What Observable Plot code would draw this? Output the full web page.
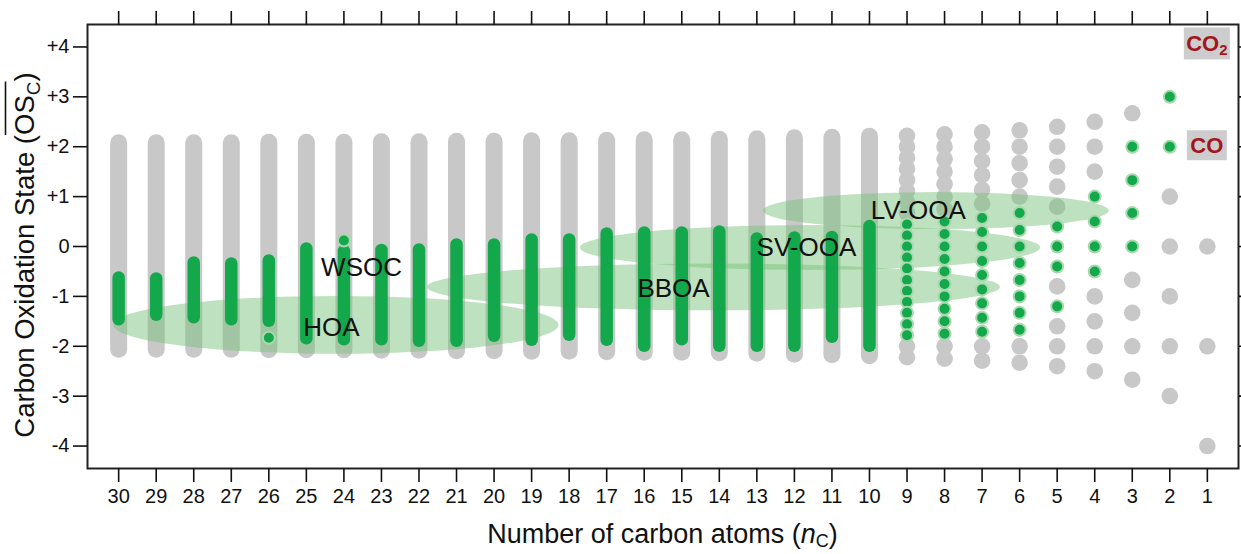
<!DOCTYPE html>
<html><head><meta charset="utf-8">
<script src="https://cdn.jsdelivr.net/npm/d3@7"></script>
<script src="https://cdn.jsdelivr.net/npm/@observablehq/plot@0.6"></script>
<style>
html,body{margin:0;padding:0;background:#fff;}
#chart{width:1241px;height:554px;}
</style></head><body><div id="chart"></div>
<script>
// ---------- DATA ----------
const xTicks = [30,29,28,27,26,25,24,23,22,21,20,19,18,17,16,15,14,13,12,11,10,9,8,7,6,5,4,3,2,1];
const yTicks = [-4,-3,-2,-1,0,1,2,3,4];
const yTickLabels = ["-4","-3","-2","-1","0","+1","+2","+3","+4"];

// columns drawn as continuous bars (n >= 10)
const barN     = [30,29,28,27,26,25,24,23,22,21,20,19,18,17,16,15,14,13,12,11,10];
const grayHi   = [2.07,2.07,2.07,2.07,2.08,2.08,2.08,2.09,2.09,2.1,2.1,2.11,2.11,2.12,2.13,2.13,2.14,2.15,2.17,2.18,2.2];
const grayLo   = [-2.07,-2.07,-2.07,-2.07,-2.08,-2.08,-2.08,-2.09,-2.09,-2.1,-2.1,-2.11,-2.11,-2.12,-2.13,-2.13,-2.14,-2.15,-2.17,-2.18,-2.2];
const greenHi  = [-0.63,-0.65,-0.33,-0.35,-0.29,-0.05,-0.1,-0.08,-0.07,0.03,0.03,0.13,0.13,0.25,0.27,0.27,0.29,0.15,0.17,0.18,0.4];
const greenLo  = [-1.47,-1.38,-1.43,-1.47,-1.5,-1.85,-1.87,-1.87,-1.9,-1.9,-1.8,-1.88,-1.78,-1.88,-2.0,-1.87,-2.0,-2.0,-2.0,-1.82,-2.0];
const greenExtraN = [26, 24];
const greenExtraY = [-1.83, 0.12];

// individual possible states (gray) and observed states (green), n <= 9
const gray1 = [0,-2,-4];
const gray2 = [1,0,-1,-2,-3];
const gray3 = [2.67,-0.67,-1.33,-2,-2.67];
const gray4 = [2.5,2,1.5,-1,-1.5,-2,-2.5];
const gray5 = [2.4,2,1.6,1.2,0.8,-0.8,-1.6,-2,-2.4];
const gray6 = [2.33,2,1.67,1.33,1,-2,-2.33];
const gray7 = [2.29,2,1.71,1.43,1.14,0.86,-2,-2.29];
const gray8 = [2.25,2,1.75,1.5,1.25,1,0.75,-2,-2.25];
const gray9 = [2.22,2,1.78,1.56,1.33,1.11,0.89,0.67,-2,-2.22];

const green2 = [3,2];
const green3 = [2,1.33,0.67,0];
const green4 = [1,0.5,0,-0.5];
const green5 = [0.4,0,-0.4,-1.2];
const green6 = [0.67,0.33,0,-0.33,-0.67,-1,-1.33,-1.67];
const green7 = [0.57,0.29,0,-0.29,-0.57,-0.86,-1.14,-1.43,-1.71];
const green8 = [0.5,0.25,0,-0.25,-0.5,-0.75,-1,-1.25,-1.5,-1.75];
const green9 = [0.44,0.22,0,-0.22,-0.44,-0.67,-0.89,-1.11,-1.33,-1.56,-1.78];

// aerosol class ellipses (data units)
const ellName = ["HOA","BBOA","SV-OOA","LV-OOA"];
const ellCx   = [24.2, 14.14, 11.57, 8.22];
const ellCy   = [-1.58, -0.82, -0.03, 0.71];
const ellRx   = [5.93, 7.63, 6.13, 4.61];
const ellRy   = [0.58, 0.47, 0.45, 0.37];

// class labels
const labText = ["HOA","WSOC","BBOA","SV-OOA","LV-OOA"];
const labX    = [24.33, 23.53, 15.22, 11.68, 8.7];
const labY    = [-1.63, -0.42, -0.85, -0.02, 0.72];

// boxed gas labels
const gasText = ["CO2","CO"];
const gasX    = [1, 1];
const gasY    = [4, 2];

// ---------- TABLES ----------
const FONT = "'Liberation Sans', Arial, Helvetica, sans-serif";
const bars = barN.map((n,i)=>({n, gHi:grayHi[i], gLo:grayLo[i], eHi:greenHi[i], eLo:greenLo[i]}));
const grayLists = [[1,gray1],[2,gray2],[3,gray3],[4,gray4],[5,gray5],[6,gray6],[7,gray7],[8,gray8],[9,gray9]];
const greenLists = [[2,green2],[3,green3],[4,green4],[5,green5],[6,green6],[7,green7],[8,green8],[9,green9]];
const grayDots = grayLists.flatMap(([n,ys])=>ys.map(y=>({n,y})));
const greenDots = greenLists.flatMap(([n,ys])=>ys.map(y=>({n,y})))
  .concat(greenExtraN.map((n,i)=>({n, y:greenExtraY[i]})));
const labels = labText.map((t,i)=>({t, x:labX[i], y:labY[i]}));

const GRAY = "#c8c8c8", GREEN = "#12a84b", HALO = "#a9d8ae";

function ellipses(index, scales) {
  const g = d3.create("svg:g");
  ellName.forEach((name,i)=>{
    const cx = scales.x(ellCx[i]), cy = scales.y(ellCy[i]);
    const rx = Math.abs(scales.x(ellCx[i]+ellRx[i]) - cx);
    const ry = Math.abs(scales.y(ellCy[i]+ellRy[i]) - cy);
    g.append("ellipse").attr("cx",cx).attr("cy",cy).attr("rx",rx).attr("ry",ry)
      .attr("fill","#78c27a").attr("fill-opacity",0.48);
  });
  return g.node();
}

function gasLabels(index, scales) {
  const g = d3.create("svg:g");
  gasText.forEach((t,i)=>{
    const cx = scales.x(gasX[i]), cy = scales.y(gasY[i]);
    const w = t === "CO2" ? 46 : 40, h = t === "CO2" ? 32 : 30;
    const oy = t === "CO2" ? -3 : -1;
    g.append("rect").attr("x",cx-w/2).attr("y",cy+oy-h/2).attr("width",w).attr("height",h).attr("fill","#cdcdcd");
    const tx = g.append("text").attr("x",cx).attr("y",cy+oy+8).attr("text-anchor","middle")
      .attr("font-family",FONT).attr("font-weight","bold").attr("font-size",22).attr("fill","#a3161d");
    tx.append("tspan").text("CO");
    if (t === "CO2") { tx.append("tspan").attr("font-size",15).attr("dy",4).text("2"); }
  });
  return g.node();
}

const plot = Plot.plot({
  width: 1241, height: 554,
  marginTop: 24, marginRight: 3, marginBottom: 86, marginLeft: 87,
  style: {fontFamily: FONT, fontSize: "20px", color: "#111", background: "#fff"},
  x: {domain: [30.83, 0.17]},
  y: {domain: [-4.45, 4.45]},
  marks: [
    Plot.ruleX(bars, {x:"n", y1:"gLo", y2:"gHi", stroke: GRAY, strokeWidth: 17, strokeLinecap: "round"}),
    Plot.dot(grayDots, {x:"n", y:"y", r: 8.3, fill: GRAY}),
    ellipses,
    Plot.ruleX(bars, {x:"n", y1:"eLo", y2:"eHi", stroke: GREEN, strokeWidth: 12.5, strokeLinecap: "round"}),
    Plot.dot(greenDots, {x:"n", y:"y", r: 6, fill: GREEN, stroke: HALO, strokeWidth: 2}),
    Plot.text(labels, {x:"x", y:"y", text:"t", fontSize: 26, fill: "#111", textAnchor: "middle", lineAnchor: "middle"}),
    gasLabels,
    Plot.frame({stroke: "#222", strokeWidth: 2}),
    Plot.axisX({anchor: "bottom", ticks: xTicks, tickSize: 14, tickPadding: 6, fontSize: 20, fill: "#111", tickFormat: d => String(d), label: null, strokeWidth: 1.6}),
    Plot.axisX({anchor: "top", ticks: xTicks, tickSize: 14, tickFormat: () => "", label: null, strokeWidth: 1.6}),
    Plot.axisY({anchor: "left", ticks: yTicks, tickSize: 14, tickPadding: 4, fontSize: 20, fill: "#111", tickFormat: d => yTickLabels[yTicks.indexOf(d)], label: null, strokeWidth: 1.6}),
    Plot.axisY({anchor: "right", ticks: yTicks, tickSize: 8, tickFormat: () => "", label: null, strokeWidth: 1.6})
  ]
});
document.getElementById("chart").appendChild(plot);

const svg = d3.select(plot);
// force tick label size (axis text)
svg.selectAll('g[aria-label="x-axis tick label"] text, g[aria-label="y-axis tick label"] text')
  .style("font-size", "20px").style("font-family", FONT);

// ---------- axis titles ----------
const cxPlot = (87 + 1238) / 2, cyPlot = (24 + 468) / 2;
const xt = svg.append("text").attr("x", cxPlot).attr("y", 543).attr("text-anchor","middle")
  .attr("font-family",FONT).attr("font-size",27).attr("fill","#111");
xt.append("tspan").text("Number of carbon atoms (");
xt.append("tspan").attr("font-style","italic").text("n");
xt.append("tspan").attr("font-size",18).attr("dy",4).text("C");
xt.append("tspan").attr("dy",-4).text(")");

const yg = svg.append("g").attr("transform", `translate(34,${cyPlot + 9}) rotate(-90)`);
const yt = yg.append("text").attr("x",0).attr("y",0).attr("text-anchor","middle")
  .attr("font-family",FONT).attr("font-size",27.5).attr("fill","#111");
const pre = "Carbon Oxidation State (";
yt.append("tspan").text(pre);
yt.append("tspan").text("OS");
yt.append("tspan").attr("font-size",19).attr("dy",6).text("C");
yt.append("tspan").attr("dy",-6).text(")");
try {
  const e0 = yt.node().getExtentOfChar(pre.length);
  const e2 = yt.node().getExtentOfChar(pre.length + 2);
  yg.append("line").attr("x1", e0.x).attr("x2", e2.x + e2.width).attr("y1", -28.5).attr("y2", -28.5)
    .attr("stroke","#111").attr("stroke-width",1.6);
} catch (e) {}
</script>
</body></html>
